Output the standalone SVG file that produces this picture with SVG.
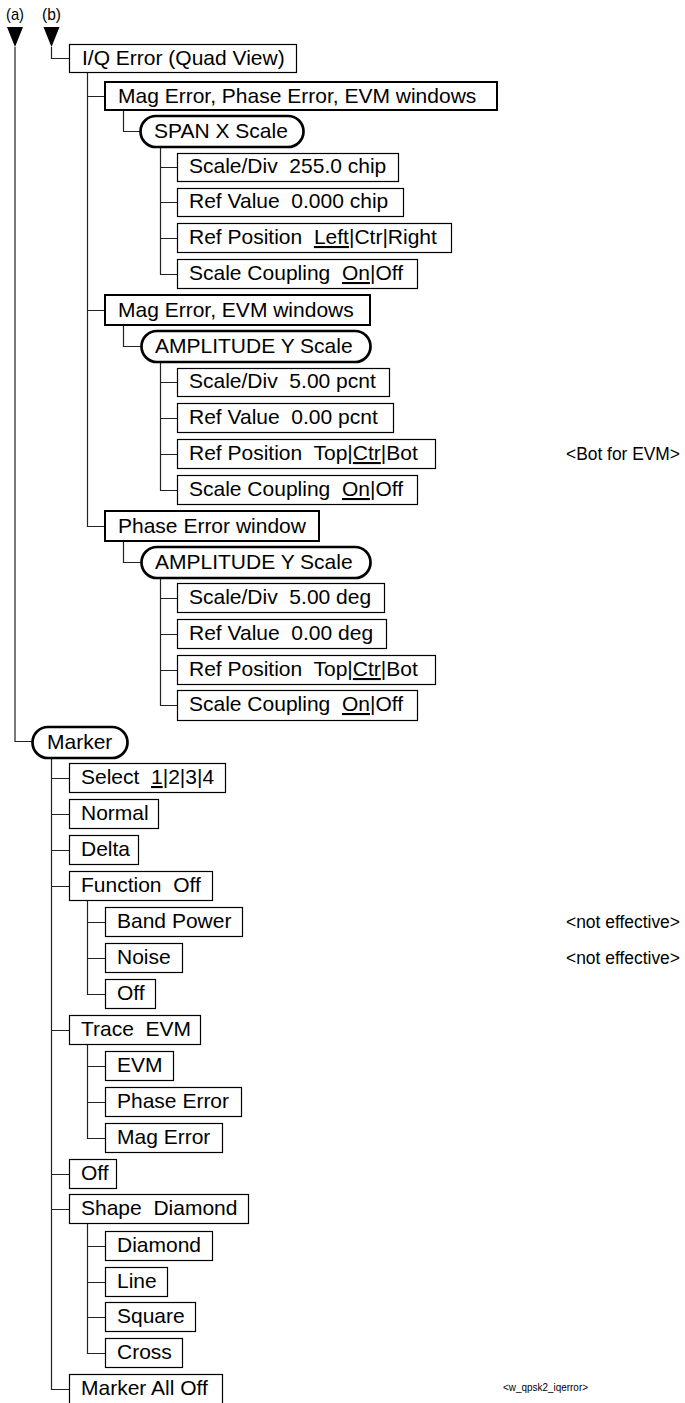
<svg xmlns="http://www.w3.org/2000/svg" width="685" height="1403" viewBox="0 0 685 1403">
<style>
.b{fill:#fff;stroke:#000;stroke-width:1.2}
.b2{fill:#fff;stroke:#000;stroke-width:2}
.p{fill:#fff;stroke:#000;stroke-width:2.7}
.t{font-family:"Liberation Sans",Arial,sans-serif;font-size:21px;fill:#000;white-space:pre}
.n{font-family:"Liberation Sans",Arial,sans-serif;font-size:17.5px;fill:#000;white-space:pre}
.s{font-family:"Liberation Sans",Arial,sans-serif;font-size:10px;fill:#000;white-space:pre}
.l{font-family:"Liberation Sans",Arial,sans-serif;font-size:17px;fill:#000}
.u{text-decoration:underline}
.c{fill:none;stroke:#222;stroke-width:1.2}
</style>
<rect width="685" height="1403" fill="#fff"/>
<g id="connectors">
<text class="l" x="6" y="20" textLength="18" lengthAdjust="spacingAndGlyphs">(a)</text>
<text class="l" x="42" y="20" textLength="19" lengthAdjust="spacingAndGlyphs">(b)</text>
<polygon points="7,27 23,27 15,47" fill="#000"/>
<polygon points="43.5,27 59.5,27 51.5,47" fill="#000"/>
<path class="c" d="M15,47 V741.5 H32"/>
<path class="c" d="M51.5,47 V58.5 H69"/>
<path class="c" d="M87.5,73 V526.5 H105 M87.5,96.5 H105 M87.5,310.5 H105"/>
<path class="c" d="M123.5,110 V131.5 H140"/>
<path class="c" d="M160.5,147 V274.5 H177 M160.5,167.5 H177 M160.5,202.5 H177 M160.5,238.5 H177"/>
<path class="c" d="M123.5,325 V346.5 H141"/>
<path class="c" d="M160.5,362 V490.5 H177 M160.5,382.5 H177 M160.5,418.5 H177 M160.5,454.5 H177"/>
<path class="c" d="M123.5,541 V562.5 H141"/>
<path class="c" d="M160.5,578 V705.5 H177 M160.5,598.5 H177 M160.5,634.5 H177 M160.5,670.5 H177"/>
<path class="c" d="M51.5,758 V1389.5 H69 M51.5,778.5 H69 M51.5,814.5 H69 M51.5,850.5 H69 M51.5,886.5 H69 M51.5,1030.5 H69 M51.5,1174.5 H69 M51.5,1209.5 H69"/>
<path class="c" d="M87.5,900 V994.5 H105 M87.5,922.5 H105 M87.5,958.5 H105"/>
<path class="c" d="M87.5,1044 V1138.5 H105 M87.5,1066.5 H105 M87.5,1102.5 H105"/>
<path class="c" d="M87.5,1224 V1353.5 H105 M87.5,1246.5 H105 M87.5,1282.5 H105 M87.5,1317.5 H105"/>
</g>
<g id="iq"><rect class="b" x="69.5" y="44.5" width="227" height="28"/><text class="t" x="82" y="65">I/Q Error (Quad View)</text></g>
<g id="mpe"><rect class="b2" x="105" y="82" width="392" height="28"/><text class="t" x="118" y="103">Mag Error, Phase Error, EVM windows</text></g>
<g id="spanx"><rect class="p" x="140.5" y="116" width="163" height="31" rx="15.5"/><text class="t" x="154" y="138">SPAN X Scale</text></g>
<g id="sx1"><rect class="b" x="177.5" y="153.5" width="221" height="28"/><text class="t" x="189" y="173">Scale/Div  255.0 chip</text></g>
<g id="sx2"><rect class="b" x="177.5" y="188.5" width="226" height="28"/><text class="t" x="189" y="208">Ref Value  0.000 chip</text></g>
<g id="sx3"><rect class="b" x="177.5" y="223.5" width="274" height="29"/><text class="t" x="189" y="244">Ref Position  <tspan class="u">Left</tspan>|Ctr|Right</text></g>
<g id="sx4"><rect class="b" x="177.5" y="259.5" width="240" height="29"/><text class="t" x="189" y="280">Scale Coupling  <tspan class="u">On</tspan>|Off</text></g>
<g id="me"><rect class="b2" x="105" y="295" width="265" height="30"/><text class="t" x="118" y="317">Mag Error, EVM windows</text></g>
<g id="ampy1"><rect class="p" x="141.5" y="331" width="229" height="31" rx="15.5"/><text class="t" x="155" y="353">AMPLITUDE Y Scale</text></g>
<g id="ay1"><rect class="b" x="177.5" y="368.5" width="212" height="28"/><text class="t" x="189" y="388">Scale/Div  5.00 pcnt</text></g>
<g id="ay2"><rect class="b" x="177.5" y="403.5" width="216" height="29"/><text class="t" x="189" y="424">Ref Value  0.00 pcnt</text></g>
<g id="ay3"><rect class="b" x="177.5" y="439.5" width="258" height="29"/><text class="t" x="189" y="460">Ref Position  Top|<tspan class="u">Ctr</tspan>|Bot</text></g>
<g id="ay4"><rect class="b" x="177.5" y="475.5" width="240" height="29"/><text class="t" x="189" y="496">Scale Coupling  <tspan class="u">On</tspan>|Off</text></g>
<g id="pe"><rect class="b2" x="105" y="511" width="214" height="30"/><text class="t" x="118" y="533">Phase Error window</text></g>
<g id="ampy2"><rect class="p" x="141.5" y="547" width="229" height="31" rx="15.5"/><text class="t" x="155" y="569">AMPLITUDE Y Scale</text></g>
<g id="py1"><rect class="b" x="177.5" y="583.5" width="207" height="29"/><text class="t" x="189" y="604">Scale/Div  5.00 deg</text></g>
<g id="py2"><rect class="b" x="177.5" y="619.5" width="209" height="29"/><text class="t" x="189" y="640">Ref Value  0.00 deg</text></g>
<g id="py3"><rect class="b" x="177.5" y="655.5" width="258" height="29"/><text class="t" x="189" y="676">Ref Position  Top|<tspan class="u">Ctr</tspan>|Bot</text></g>
<g id="py4"><rect class="b" x="177.5" y="690.5" width="240" height="30"/><text class="t" x="189" y="711">Scale Coupling  <tspan class="u">On</tspan>|Off</text></g>
<g id="marker"><rect class="p" x="32.5" y="727" width="95" height="31" rx="15.5"/><text class="t" x="47" y="749">Marker</text></g>
<g id="sel"><rect class="b" x="69.5" y="763.5" width="156" height="29"/><text class="t" x="81" y="784">Select  <tspan class="u">1</tspan>|2|3|4</text></g>
<g id="normal"><rect class="b" x="69.5" y="799.5" width="89" height="29"/><text class="t" x="81" y="820">Normal</text></g>
<g id="delta"><rect class="b" x="69.5" y="835.5" width="69" height="29"/><text class="t" x="81" y="856">Delta</text></g>
<g id="func"><rect class="b" x="69.5" y="871.5" width="143" height="29"/><text class="t" x="81" y="892">Function  Off</text></g>
<g id="bandp"><rect class="b" x="105.5" y="907.5" width="137" height="29"/><text class="t" x="117" y="928">Band Power</text></g>
<g id="noise"><rect class="b" x="105.5" y="943.5" width="77" height="29"/><text class="t" x="117" y="964">Noise</text></g>
<g id="foff"><rect class="b" x="105.5" y="979.5" width="50" height="29"/><text class="t" x="117" y="1000">Off</text></g>
<g id="trace"><rect class="b" x="69.5" y="1015.5" width="131" height="29"/><text class="t" x="81" y="1036">Trace  EVM</text></g>
<g id="tevm"><rect class="b" x="105.5" y="1051.5" width="68" height="29"/><text class="t" x="117" y="1072">EVM</text></g>
<g id="tpe"><rect class="b" x="105.5" y="1087.5" width="136" height="29"/><text class="t" x="117" y="1108">Phase Error</text></g>
<g id="tme"><rect class="b" x="105.5" y="1123.5" width="117" height="29"/><text class="t" x="117" y="1144">Mag Error</text></g>
<g id="moff"><rect class="b" x="69.5" y="1159.5" width="47" height="29"/><text class="t" x="81" y="1180">Off</text></g>
<g id="shape"><rect class="b" x="69.5" y="1194.5" width="179" height="29"/><text class="t" x="81" y="1215">Shape  Diamond</text></g>
<g id="sdia"><rect class="b" x="105.5" y="1231.5" width="107" height="29"/><text class="t" x="117" y="1252">Diamond</text></g>
<g id="sline"><rect class="b" x="105.5" y="1267.5" width="62" height="29"/><text class="t" x="117" y="1288">Line</text></g>
<g id="ssq"><rect class="b" x="105.5" y="1302.5" width="90" height="29"/><text class="t" x="117" y="1323">Square</text></g>
<g id="scross"><rect class="b" x="105.5" y="1338.5" width="77" height="29"/><text class="t" x="117" y="1359">Cross</text></g>
<g id="alloff"><rect class="b" x="69.5" y="1374.5" width="153" height="31"/><text class="t" x="81" y="1395">Marker All Off</text></g>
<g id="notes">
<text class="n" x="566" y="460" textLength="114" lengthAdjust="spacingAndGlyphs">&lt;Bot for EVM&gt;</text>
<text class="n" x="566" y="928" textLength="114" lengthAdjust="spacingAndGlyphs">&lt;not effective&gt;</text>
<text class="n" x="566" y="964" textLength="114" lengthAdjust="spacingAndGlyphs">&lt;not effective&gt;</text>
<text class="s" x="503" y="1391" textLength="85" lengthAdjust="spacingAndGlyphs">&lt;w_qpsk2_iqerror&gt;</text>
</g>
</svg>
